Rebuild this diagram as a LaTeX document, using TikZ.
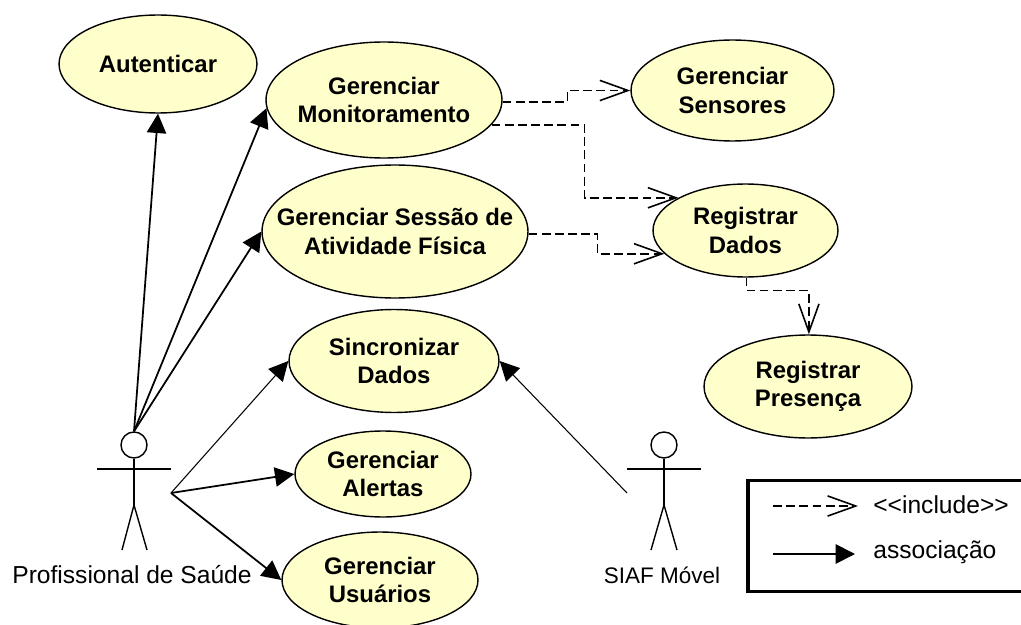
\documentclass[tikz,border=0pt]{standalone}
\usepackage{fontspec}
\usepackage{tikz}
\usetikzlibrary{arrows.meta,shapes.geometric}
\setmainfont{Liberation Sans}
\definecolor{casefill}{RGB}{255,255,204}
\tikzset{
	usecase/.style={ellipse,draw,line width=0.8pt,fill=casefill,inner sep=-15pt,align=center,font=\fontsize{13.6}{16}\selectfont\bfseries},
	assoc/.style={line width=1pt,-{Triangle[length=11pt,width=11pt]}},
	assocthin/.style={line width=0.6pt,-{Triangle[length=11pt,width=11pt]}},
	incl/.style={line width=0.9pt,dash pattern=on 5pt off 2.5pt,-{Straight Barb[length=16pt,width=11.5pt]}},
	actorline/.style={line width=0.8pt},
	plainlabel/.style={font=\fontsize{14}{16}\selectfont}
}
\begin{document}
\begin{tikzpicture}[x=0.02cm,y=-0.02cm]
	\useasboundingbox (0,0) rectangle (1021,625);

	% Use cases start here
	\node (auth) at (158,64) [usecase,minimum width=3.96cm,minimum height=1.96cm] {Autenticar};
	\node (monitor) at (384,100) [usecase,minimum width=4.72cm,minimum height=2.32cm] {Gerenciar\\Monitoramento};
	\node (sensores) at (732.5,90.5) [usecase,minimum width=4.06cm,minimum height=2.02cm] {Gerenciar\\Sensores};
	\node (sessao) at (395,231.5) [usecase,minimum width=5.32cm,minimum height=2.66cm] {Gerenciar Sessão de\\Atividade Física};
	\node (registrar) at (745.5,230.5) [usecase,minimum width=3.7cm,minimum height=1.86cm] {Registrar\\Dados};
	\node (presenca) at (808,386.5) [usecase,minimum width=4.16cm,minimum height=2.06cm] {Registrar\\Presença};
	\node (sincronizar) at (394,361) [usecase,minimum width=4.2cm,minimum height=2.06cm] {Sincronizar\\Dados};
	\node (alertas) at (383,474) [usecase,minimum width=3.52cm,minimum height=1.72cm] {Gerenciar\\Alertas};
	\node (usuarios) at (380,580) [usecase,minimum width=3.92cm,minimum height=1.92cm] {Gerenciar\\Usuários};

	% Actors start here
	\node (saude) at (134,445) [circle,draw,actorline,minimum size=0.52cm,inner sep=0pt] {};
	\coordinate (saudehip) at (134,505);
	\coordinate (saudehand) at (171,493);
	\draw[actorline] (saude) -- (saudehip);
	\draw[actorline] (97,469) -- (171,469);
	\draw[actorline] (122,550) -- (saudehip) -- (147,550);
	\node (saudelabel) at (132,575) [plainlabel] {Profissional de Saúde};

	\node (siaf) at (664,445) [circle,draw,actorline,minimum size=0.52cm,inner sep=0pt] {};
	\coordinate (siafhip) at (664,505);
	\coordinate (siafhand) at (627,493);
	\draw[actorline] (siaf) -- (siafhip);
	\draw[actorline] (627,469) -- (701,469);
	\draw[actorline] (651,550) -- (siafhip) -- (677,550);
	\node (siaflabel) at (662,575) [plainlabel,font=\fontsize{12.8}{16}\selectfont] {SIAF Móvel};

	% Lines start here
	\draw[assoc] (saude.north) to (auth.south);
	\draw[assoc] (saude.north) to (monitor.184);
	\draw[assoc] (saude.north) to (sessao.west);
	\draw[assocthin] (saudehand) to (sincronizar.west);
	\draw[assoc] (saudehand) to (alertas.west);
	\draw[assoc] (saudehand) to (usuarios.west);
	\draw[assocthin] (siafhand) to (sincronizar.east);

	\draw[incl] (monitor.-1.5) -- ++(65,0) |- (sensores.west);
	\draw[incl] (monitor.-13.2) -- ++(93,0) |- (registrar.154);
	\draw[incl] (sessao.-1) -- ++(69,0) |- (registrar.196);
	\draw[incl] (registrar.-89) -- ++(0,13) -| (presenca.89);

	% Legend starts here
	\node (legend) at (888,536) [draw,line width=2pt,minimum width=5.6cm,minimum height=2.22cm] {};
	\coordinate (inclstart) at (773,506);
	\coordinate (inclend) at (858,506);
	\coordinate (assocstart) at (773,554);
	\coordinate (assocend) at (855,554);
	\draw[incl] (inclstart) to (inclend);
	\draw[assoc] (assocstart) to (assocend);
	\node (incltext) at (873,505) [plainlabel,anchor=west,inner sep=0pt] {{<}{<}include{>}{>}};
	\node (assoctext) at (873,552) [plainlabel,anchor=west,inner sep=0pt] {associação};

\end{tikzpicture}
\end{document}
